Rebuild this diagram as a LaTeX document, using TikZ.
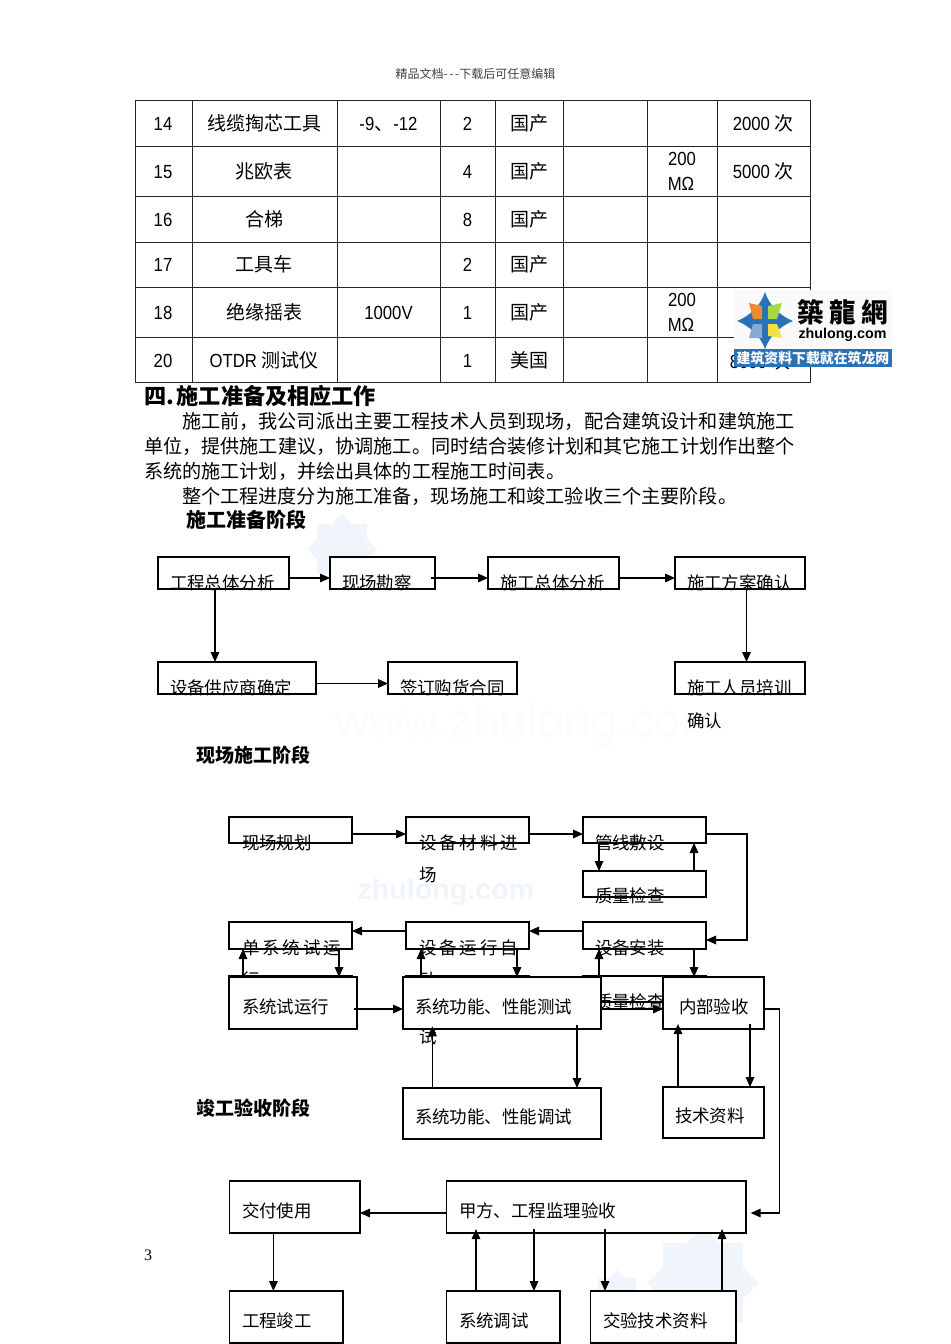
\documentclass[tikz,border=0pt]{standalone}
\usepackage{fontspec}
\usetikzlibrary{arrows.meta}
\setmainfont{Noto Sans CJK SC}
\newfontfamily\lat[FakeStretch=0.88]{Liberation Sans}
\newfontfamily\serifnum{Liberation Serif}
\newfontfamily\tcfont{Noto Sans CJK TC}
\newfontfamily\wmfont{Liberation Sans}
\definecolor{wm}{HTML}{F0F5FB}
\definecolor{logoblue}{HTML}{2A72B8}
\tikzset{
 fs/.style={font=\fontsize{#1}{#1}\selectfont,text height={#1*0.88pt},text depth={#1*0.12pt},inner sep=0pt,outer sep=0pt},
 tx/.style={fs=#1,anchor=west},
 tx/.default=13.1,
 tc/.style={fs=14.25,anchor=center},
 boxn/.style={draw=black,line width=0.85pt,fill=white,anchor=north west,inner sep=0pt,outer sep=0pt},
 arr/.style={draw=black,line width=0.8pt,-{Triangle[length=7.5pt,width=6.5pt]}},
 grid/.style={draw=black!85,line width=0.65pt},
}
\newcommand\bx[5]{\node[boxn,minimum width={(#4-#2)*0.75pt},minimum height={(#5-#3)*0.75pt}] (#1) at (#2,#3) {};}
\newcommand\tx[4]{\node[tx] (#1) at (#2,#3) {#4};}
\newcommand\staro[3]{\fill[wm,shift={(#1,#2)}] (-#3*0.72,-#3*0.72) rectangle (#3*0.72,#3*0.72); \fill[wm,shift={(#1,#2)}] (-#3,0) -- (0,-#3) -- (#3,0) -- (0,#3) -- cycle;}
\begin{document}
\begin{tikzpicture}[x=0.75pt,y=-0.75pt]
\useasboundingbox (0,0) rectangle (950,1344);
\fill[white] (0,0) rectangle (950,1344);
% faint watermarks
\staro{342}{549}{35}
\staro{703}{1283}{56}
\staro{617}{1297}{27}
\node[anchor=center,inner sep=0pt,text=wm,font=\wmfont\bfseries\fontsize{21.5}{21.5}\selectfont] (wmz) at (446,892) {zhulong.com};
\node[anchor=center,inner sep=0pt,text=black!1,font=\wmfont\fontsize{36}{36}\selectfont] (wmw) at (528,725) {www.zhulong.com};
% header
\node[fs=9,anchor=center,text=black!75] (hdr) at (475.5,74) {精品文档{-}\hspace{1.2pt}{-}\hspace{1.2pt}{-}下载后可任意编辑};
% table
\draw[grid] (135,100) rectangle (810,382);
\foreach \yy in {146,196,242,287,337} \draw[grid] (135,\yy) -- (810,\yy);
\foreach \xx in {192,337,440,495,563,647,717} \draw[grid] (\xx,100) -- (\xx,382);
\node[tc] (n1) at (163,123) {\lat 14};
\node[tc] (n2) at (163,171) {\lat 15};
\node[tc] (n3) at (163,219) {\lat 16};
\node[tc] (n4) at (163,264) {\lat 17};
\node[tc] (n5) at (163,312) {\lat 18};
\node[tc] (n6) at (163,360) {\lat 20};
\node[tc] (a1) at (264,123) {线缆掏芯工具};
\node[tc] (a2) at (264,171) {兆欧表};
\node[tc] (a3) at (264,219) {合梯};
\node[tc] (a4) at (264,264) {工具车};
\node[tc] (a5) at (264,312) {绝缘摇表};
\node[tc] (a6) at (264,360) {{\lat OTDR} 测试仪};
\node[tc] (s1) at (388.5,123) {{\lat -9}、{\lat -12}};
\node[tc] (s5) at (388.5,312) {\lat 1000V};
\node[tc] (q1) at (467.5,123) {\lat 2};
\node[tc] (q2) at (467.5,171) {\lat 4};
\node[tc] (q3) at (467.5,219) {\lat 8};
\node[tc] (q4) at (467.5,264) {\lat 2};
\node[tc] (q5) at (467.5,312) {\lat 1};
\node[tc] (q6) at (467.5,360) {\lat 1};
\node[tc] (o1) at (529,123) {国产};
\node[tc] (o2) at (529,171) {国产};
\node[tc] (o3) at (529,219) {国产};
\node[tc] (o4) at (529,264) {国产};
\node[tc] (o5) at (529,312) {国产};
\node[tc] (o6) at (529,360) {美国};
\node[tc] (r2a) at (682,158) {\lat 200};
\node[tc] (r2b) at (681,183) {\lat MΩ};
\node[tc] (r5a) at (682,299) {\lat 200};
\node[tc] (r5b) at (681,324) {\lat MΩ};
\node[tc] (l1) at (763,123) {{\lat 2000} 次};
\node[tc] (l2) at (763,171) {{\lat 5000} 次};
\node[tc] (l6) at (760,361) {{\lat 8000} 次};
% logo
\fill[black!2] (734,290) rectangle (892,350);
\fill[logoblue] (734,349) rectangle (892,367);
\fill[logoblue] (765,292) .. controls (769,305) and (780,316) .. (793,321) .. controls (780,326) and (769,337) .. (765,349) .. controls (761,337) and (750,326) .. (737,321) .. controls (750,316) and (761,305) .. (765,292) -- cycle;
\definecolor{lgo}{HTML}{F08A30}\definecolor{lgg}{HTML}{A8D84A}\definecolor{lgb}{HTML}{86AAD8}\definecolor{lgy}{HTML}{F6E040}
\fill[lgo] (749,303) -- (762,306) -- (762,319) -- (753,319) -- cycle;
\fill[lgg] (768,319) -- (768,306) -- (782,303) -- (777,319) -- cycle;
\fill[lgb] (749,338) -- (753,324) -- (762,324) -- (762,338) -- cycle;
\fill[lgy] (768,324) -- (777,324) -- (782,338) -- (768,336) -- cycle;
\node[anchor=center,inner sep=0pt,font=\tcfont\bfseries\fontsize{20}{20}\selectfont] (logot) at (842.5,312) {築\hspace{4pt}龍\hspace{4pt}網};
\node[anchor=center,inner sep=0pt,font=\wmfont\bfseries\fontsize{10.7}{10.7}\selectfont] (logou) at (842.5,335) {zhulong.com};
\node[anchor=center,inner sep=0pt,text=white,font=\bfseries\fontsize{10.4}{10.4}\selectfont] (logob) at (813,358) {建筑资料下载就在筑龙网};
% body text
\node[fs=16.6,anchor=west,font=\bfseries\fontsize{16.6}{16.6}\selectfont] (h4) at (144,396) {四\makebox[8pt][l]{.}施工准备及相应工作};
\node[tx=14.36] (p1) at (182,421) {施工前^^^^ff0c我公司派出主要工程技术人员到现场^^^^ff0c配合建筑设计和建筑施工};
\node[tx=14.36] (p2) at (144,446) {单位^^^^ff0c提供施工建议^^^^ff0c协调施工。同时结合装修计划和其它施工计划作出整个};
\node[tx=14.36] (p3) at (144,471) {系统的施工计划^^^^ff0c并绘出具体的工程施工时间表。};
\node[tx=14.36] (p4) at (182,496) {整个工程进度分为施工准备^^^^ff0c现场施工和竣工验收三个主要阶段。};
\node[fs=15,anchor=west,font=\bfseries\fontsize{15}{15}\selectfont] (h1) at (186,520) {施工准备阶段};
\node[fs=14.25,anchor=west,font=\bfseries\fontsize{14.25}{14.25}\selectfont] (h2) at (196,755) {现场施工阶段};
\node[fs=14.25,anchor=west,font=\bfseries\fontsize{14.25}{14.25}\selectfont] (h3) at (196,1108) {竣工验收阶段};
\node[anchor=center,inner sep=0pt,font=\serifnum\fontsize{12}{12}\selectfont] (pg) at (148,1255) {3};
% stage 1
\bx{b1}{158}{557}{289}{589}
\bx{b2}{330}{557}{435}{589}
\bx{b3}{488}{557}{619}{589}
\bx{b4}{675}{557}{805}{589}
\bx{b5}{158}{662}{316}{694}
\bx{b6}{388}{662}{517}{694}
\bx{b7}{675}{662}{805}{694}
\tx{t1}{170}{583}{工程总体分析}
\tx{t2}{342}{583}{现场勘察}
\tx{t3}{500}{583}{施工总体分析}
\tx{t4}{687}{583}{施工方案确认}
\tx{t5}{170}{688}{设备供应商确定}
\tx{t6}{400}{688}{签订购货合同}
\tx{t7}{687}{688}{施工人员培训}
\tx{t7b}{687}{721}{确认}
\draw[arr] (b1.east |- 0,578) -- (b2.west |- 0,578);
\draw[arr,shorten <=-3pt] (b2.east |- 0,578) -- (b3.west |- 0,578);
\draw[arr] (b3.east |- 0,578) -- (b4.west |- 0,578);
\draw[arr] (b1.south -| 215,0) -- (b5.north -| 215,0);
\draw[arr] (b4.south -| 746.5,0) -- (b7.north -| 746.5,0);
\draw[arr] (b5.east |- 0,683.5) -- (b6.west |- 0,683.5);
% stage 2 upper
\bx{c1}{229}{817}{352}{843}
\bx{c2}{406}{817}{529}{843}
\bx{c3}{583}{817}{706}{843}
\bx{c4}{583}{871}{706}{897}
\bx{c5}{229}{922}{352}{949}
\bx{c6}{406}{922}{529}{949}
\bx{c7}{583}{922}{706}{949}
\bx{c8}{229}{976}{352}{1002}
\bx{c9}{406}{976}{529}{1002}
\bx{c10}{583}{976}{706}{1002}
\tx{u1}{242}{843}{现场规划}
\node[tx] (u2) at (419,843) {\spaceskip=2.2pt 设 备 材 料 进};
\tx{u2b}{419}{875}{场}
\tx{u3}{595}{843}{管线敷设}
\tx{u4}{595}{896}{质量检查}
\node[tx] (u5) at (242,948) {\spaceskip=2.2pt 单 系 统 试 运};
\tx{u5b}{242}{980}{行}
\node[tx] (u6) at (419,948) {\spaceskip=2.2pt 设 备 运 行 自};
\tx{u6b}{419}{980}{动}
\tx{u7}{595}{948}{设备安装}
\tx{u8}{595}{1002}{质量检查}
% stage 2 lower
\bx{d1}{229}{977}{357}{1029}
\bx{d2}{403}{977}{601}{1029}
\bx{d3}{663}{977}{764}{1029}
\bx{d4}{403}{1088}{601}{1139}
\bx{d5}{663}{1087}{764}{1138}
\tx{v1}{242}{1007}{系统试运行}
\tx{v2}{415}{1007}{系统功能、性能测试}
\tx{v3}{679}{1007}{内部验收}
\tx{v4}{415}{1117}{系统功能、性能调试}
\tx{v5}{675}{1116}{技术资料}
\tx{u6c}{419}{1037}{试}
\draw[arr] (c1.east |- 0,834) -- (c2.west |- 0,834);
\draw[arr] (c2.east |- 0,834) -- (c3.west |- 0,834);
\draw[arr] (c3.south -| 599,0) -- (c4.north -| 599,0);
\draw[arr] (c4.north -| 694,0) -- (c3.south -| 694,0);
\draw[arr] (c3.east |- 0,834) -- (747,834) -- (747,940) -- (c7.east |- 0,940);
\draw[arr] (c7.west |- 0,931) -- (c6.east |- 0,931);
\draw[arr] (c6.west |- 0,931) -- (c5.east |- 0,931);
\draw[arr] (d1.north -| 243,0) -- (c5.south -| 243,0);
\draw[arr] (c5.south -| 339,0) -- (d1.north -| 339,0);
\draw[arr] (d2.north -| 421,0) -- (c6.south -| 421,0);
\draw[arr] (c6.south -| 517,0) -- (d2.north -| 517,0);
\draw[arr] (d2.north -| 599,0) -- (c7.south -| 599,0);
\draw[arr] (c7.south -| 694,0) -- (d3.north -| 694,0);
\draw[arr,shorten <=-2.5pt] (d1.east |- 0,1009) -- (d2.west |- 0,1009);
\draw[arr] (d2.east |- 0,1009) -- (d3.west |- 0,1009);
\draw[arr,shorten <=-3pt] (d2.south -| 577,0) -- (d4.north -| 577,0);
\draw[arr,shorten >=-2pt] (d4.north -| 432.4,0) -- (d2.south -| 432.4,0);
\draw[arr,shorten >=-3.7pt] (d5.north -| 678,0) -- (d3.south -| 678,0);
\draw[arr,shorten <=-3.7pt] (d3.south -| 750,0) -- (d5.north -| 750,0);
% stage 3
\bx{e1}{229.5}{1181}{360}{1233}
\bx{e2}{446.5}{1181}{746}{1233}
\bx{e3}{229.5}{1291}{343}{1343}
\bx{e4}{446.5}{1291}{560}{1343}
\bx{e5}{590.5}{1291}{736}{1343}
\tx{w1}{242}{1211}{交付使用}
\tx{w2}{459}{1211}{甲方、工程监理验收}
\tx{w3}{242}{1321}{工程竣工}
\tx{w4}{459}{1321}{系统调试}
\tx{w5}{603}{1321}{交验技术资料}
\draw[arr] (e2.west |- 0,1213) -- (e1.east |- 0,1213);
\draw[arr] (e1.south -| 273.4,0) -- (e3.north -| 273.4,0);
\draw[arr,shorten >=-3pt] (e4.north -| 476,0) -- (e2.south -| 476,0);
\draw[arr,shorten <=-3pt] (e2.south -| 534,0) -- (e4.north -| 534,0);
\draw[arr,shorten <=-3pt] (e2.south -| 605,0) -- (e5.north -| 605,0);
\draw[arr,shorten >=-3pt] (e5.north -| 722,0) -- (e2.south -| 722,0);
\draw[arr,shorten >=3.5pt] (d3.east |- 0,1009) -- (779.5,1009) -- (779.5,1213) -- (e2.east |- 0,1213);
\end{tikzpicture}
\end{document}
